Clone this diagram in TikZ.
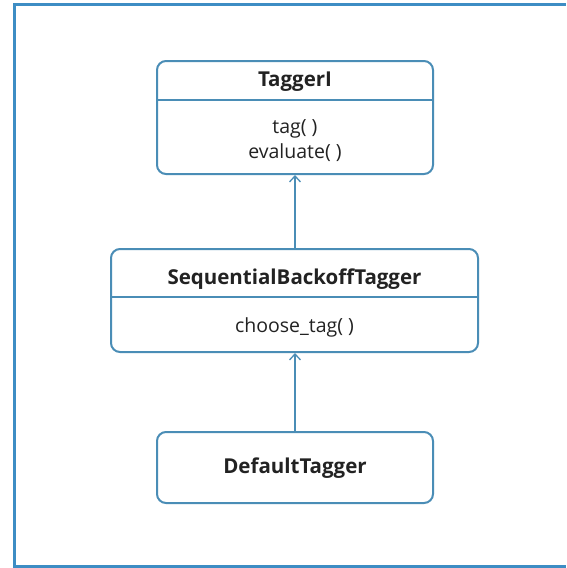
\documentclass[tikz,border=0pt]{standalone}
\usepackage{fontspec}
\setmainfont{Open Sans}
\usetikzlibrary{arrows.meta}
\definecolor{framec}{HTML}{3D8DC4}
\definecolor{boxc}{HTML}{4A8DB6}
\definecolor{txt}{HTML}{222222}
\tikzset{
  classbox/.style={draw=boxc, line width=2pt, rounded corners=9pt, fill=white},
  title/.style={font=\fontsize{20.5}{23}\selectfont\bfseries, text=txt, inner sep=0pt},
  member/.style={font=\fontsize{19.5}{25}\selectfont, text=txt, inner sep=0pt, align=center},
  divider/.style={draw=boxc, line width=1.2pt},
  inherit/.style={draw=boxc, line width=1.5pt, -{Straight Barb[length=6pt,width=11pt,line width=1.3pt]}},
  frameline/.style={draw=framec, line width=3pt}
}
\begin{document}
\begin{tikzpicture}[x=1pt,y=-1pt]
\useasboundingbox (0,0) rectangle (566,568);
\fill[white] (0,0) rectangle (566,568);
% outer frame (open on the right)
\draw[frameline] (566,4.5) -- (14.5,4.5) -- (14.5,568);
\draw[frameline] (14.5,566) -- (566,566);

% TaggerI
\node[classbox, minimum width=276pt, minimum height=113pt] (tagger) at (295,117.5) {};
\draw[divider] (157,100) -- (433,100);
\node[title] (taggerT) at (295,82) {TaggerI};
\node[member] (taggerM) at (295,140.5) {tag( )\\evaluate( )};

% SequentialBackoffTagger
\node[classbox, minimum width=367pt, minimum height=103pt] (seq) at (294.5,300.5) {};
\draw[divider] (111,297) -- (478,297);
\node[title] (seqT) at (294.5,279) {SequentialBackoffTagger};
\node[member] (seqM) at (294.5,327) {choose\_tag( )};

% DefaultTagger
\node[classbox, minimum width=276pt, minimum height=71pt] (def) at (295,467.5) {};
\node[title] (defT) at (295,468) {DefaultTagger};

% inheritance arrows
\draw[inherit] (seq.north -| 295,0) -- (tagger.south -| 295,0);
\draw[inherit] (def.north -| 295,0) -- (seq.south -| 295,0);
\end{tikzpicture}
\end{document}
